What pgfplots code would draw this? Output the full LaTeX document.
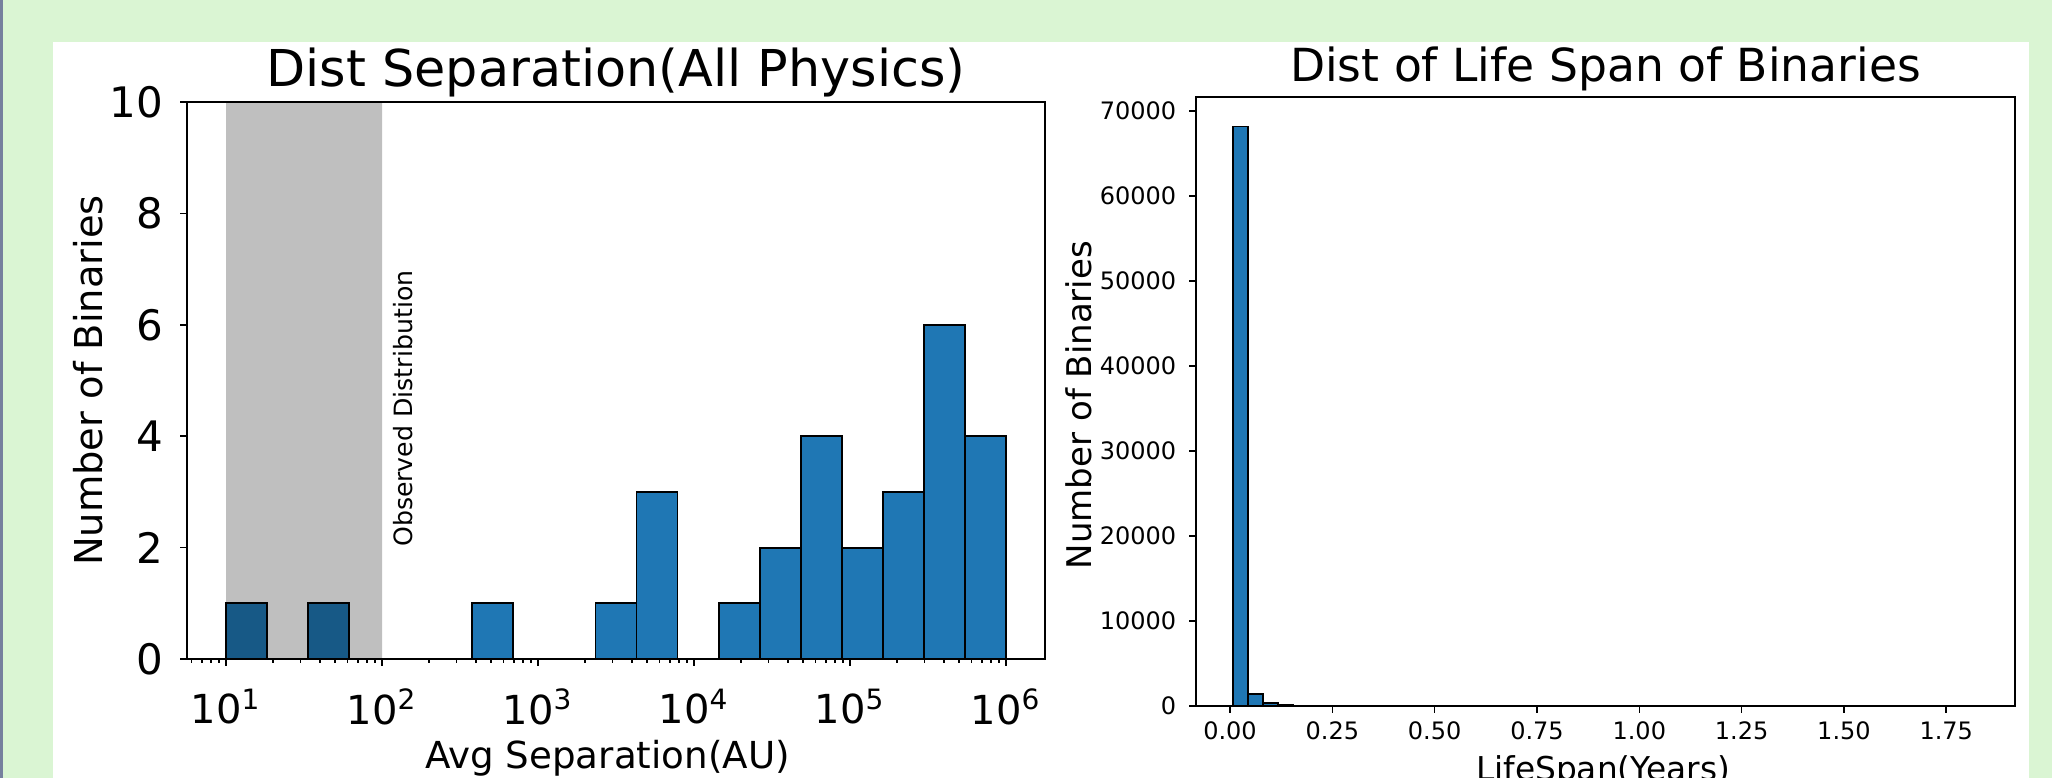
\documentclass[border=0pt]{standalone}
\usepackage{fontspec}
\setmainfont{DejaVu Sans}
\usepackage{pgfplots}
\pgfplotsset{compat=1.18}
\definecolor{bggreen}{RGB}{218,245,211}
\definecolor{mplblue}{RGB}{31,119,180}
\definecolor{frameline}{RGB}{118,128,158}

\newcommand{\fs}[1]{\fontsize{#1}{#1}\selectfont}

\pgfplotsset{
  mpl/.style={
    scale only axis, anchor=south west,
    axis line style={line width=0.4pt},
    xtick pos=bottom, ytick pos=left,
    tick align=outside,
    major tick length=1.75pt, minor tick length=1pt,
    every tick/.style={black, line width=0.4pt},
    /pgf/number format/assume math mode=true,
    every axis title/.style={at={(axis description cs:0.5,1)}, anchor=base, inner sep=0pt},
  },
}

\begin{document}
\begin{tikzpicture}[x=0.25pt,y=0.25pt]
\useasboundingbox (0,0) rectangle (2052,778);
\clip (0,0) rectangle (2052,778);
\fill[bggreen] (0,0) rectangle (2052,778);
\fill[white] (53,0) rectangle (2029,736);
\fill[frameline] (0,0) rectangle (3,778);

% left panel: separation histogram
\begin{axis}[mpl,
  at={(46.75pt,29.75pt)},
  width=214.5pt, height=139.2pt,
  xmode=log, xmin=5.623, xmax=1778279,
  ymin=0, ymax=10,
  xtick={10,100,1000,10000,100000,1000000},
  xticklabels={10\textsuperscript{1},10\textsuperscript{2},10\textsuperscript{3},10\textsuperscript{4},10\textsuperscript{5},10\textsuperscript{6}},
  minor xtick={6,7,8,9,20,30,40,50,60,70,80,90,200,300,400,500,600,700,800,900,
    2000,3000,4000,5000,6000,7000,8000,9000,20000,30000,40000,50000,60000,70000,80000,90000,
    200000,300000,400000,500000,600000,700000,800000,900000},
  ytick={0,2,4,6,8,10},
  xticklabel style={font=\fs{10}, inner sep=0pt, anchor=north, yshift=-5.5pt},
  yticklabel style={font=\fs{10.5}, inner sep=0pt, anchor=east, xshift=-4pt},
  title={Dist Separation(All Physics)},
  title style={font=\fs{12.7}, yshift=4pt},
  xlabel={Avg Separation(AU)},
  xlabel style={font=\fs{9.3}, at={(axis description cs:0.49,-0.196)}, anchor=base, inner sep=0pt},
  ylabel={Number of Binaries},
  ylabel style={font=\fs{9.6}, at={(axis description cs:-0.099,0.5)}, anchor=base, inner sep=0pt},
]
\addplot[ybar interval, fill=mplblue, draw=black, line width=0.45pt] coordinates {
  (10,1) (18.330,0) (33.598,1) (61.585,0) (112.88,0) (206.91,0) (379.27,1)
  (695.19,0) (1274.3,0) (2335.7,1) (4281.3,3) (7847.6,0) (14384,1) (26367,2)
  (48329,4) (88587,2) (162378,3) (297635,6) (545559,4) (1000000,4)
};
% observed range
\addplot[draw=none, fill=black, fill opacity=0.25] coordinates {(10,0) (10,10) (100,10) (100,0)} \closedcycle;
\node[rotate=90, anchor=north west, inner sep=0pt, font=\fs{6.3}] at (axis cs:116,2) {Observed Distribution};
\end{axis}

% right panel: lifespan histogram
\begin{axis}[mpl,
  at={(299pt,18pt)},
  width=204.75pt, height=152.3pt,
  xmin=-0.0831, xmax=1.918,
  ymin=0, ymax=71700,
  xtick={0,0.25,0.5,0.75,1,1.25,1.5,1.75},
  ytick={0,10000,20000,30000,40000,50000,60000,70000},
  scaled y ticks=false, scaled x ticks=false,
  xticklabel style={font=\fs{6}, inner sep=0pt, anchor=north, yshift=-2pt,
    /pgf/number format/fixed, /pgf/number format/fixed zerofill, /pgf/number format/precision=2},
  yticklabel style={font=\fs{6}, inner sep=0pt, anchor=east, xshift=-3pt,
    /pgf/number format/fixed, /pgf/number format/1000 sep={}},
  title={Dist of Life Span of Binaries},
  title style={font=\fs{11.4}, yshift=3.9pt},
  xlabel={LifeSpan(Years)},
  xlabel style={font=\fs{8.2}, at={(axis description cs:0.497,-0.122)}, anchor=base, inner sep=0pt},
  ylabel={Number of Binaries},
  ylabel style={font=\fs{8.5}, at={(axis description cs:-0.1276,0.494)}, anchor=base, inner sep=0pt},
]
\addplot[ybar interval, fill=mplblue, draw=black, line width=0.45pt] coordinates {
  (0.0079,68200) (0.0443,1380) (0.0807,390) (0.1170,140) (0.1534,60) (0.1898,25)
  (0.2262,12) (0.2626,8) (0.2989,5) (0.3353,3) (0.3717,2) (0.4081,2) (0.4445,1)
  (0.4808,1) (0.5172,0) (0.5536,1) (0.5900,0) (0.6264,0) (0.6627,1) (0.6991,0)
  (0.7355,0) (0.7719,0) (0.8083,1) (0.8446,0) (0.8810,0) (0.9174,0) (0.9538,0)
  (0.9902,1) (1.0265,0) (1.0629,0) (1.0993,0) (1.1357,0) (1.1721,0) (1.2084,0)
  (1.2448,1) (1.2812,0) (1.3176,0) (1.3540,0) (1.3903,0) (1.4267,0) (1.4631,0)
  (1.4995,0) (1.5359,0) (1.5722,0) (1.6086,0) (1.6450,0) (1.6814,0) (1.7178,0)
  (1.7541,0) (1.7905,1) (1.8269,1)
};
\node[anchor=base east, inner sep=0pt, font=\fs{6}] at (axis description cs:0.9963,-0.1067) {1e6};
\end{axis}
\end{tikzpicture}
\end{document}
